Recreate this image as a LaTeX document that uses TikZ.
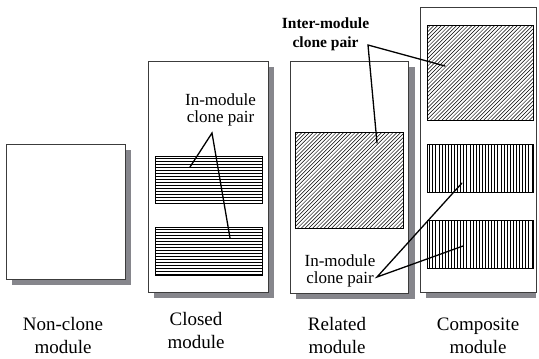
\documentclass[tikz,border=0pt]{standalone}
\usepackage{fontspec}
\setmainfont{Liberation Serif}
\definecolor{shadowgray}{RGB}{134,134,140}
\definecolor{boxline}{RGB}{60,60,60}
\tikzset{
  modbox/.style={draw=boxline, fill=white, line width=0.9bp},
  modshadow/.style={fill=shadowgray, draw=none},
  clonebox/.style={draw=black, line width=0.9bp},
  hatchline/.style={draw=black, line width=0.5bp},
  conn/.style={draw=black, line width=1.3bp, line cap=round},
  lbl/.style={align=center, inner sep=0pt, font=\fontsize{19bp}{23bp}\selectfont},
  inlbl/.style={align=center, inner sep=0pt, font=\fontsize{17bp}{16.5bp}\selectfont},
  interlbl/.style={align=center, inner sep=0pt, font=\fontsize{15.5bp}{19bp}\selectfont\bfseries},
}
\begin{document}
\begin{tikzpicture}[x=1bp, y=-1bp]
\clip (0,0) rectangle (539,358);
\fill[white] (0,0) rectangle (539,358);

% ---- shadows ----
\fill[modshadow] (12,150) rectangle (131,285);
\fill[modshadow] (154,67) rectangle (274,298);
\fill[modshadow] (296,67) rectangle (415,299);
\fill[modshadow] (426,13) rectangle (536,298);

% ---- module boxes ----
\node[modbox, minimum width=119bp, minimum height=135bp, inner sep=0pt] (m1) at (65.5,211.5) {};
\node[modbox, minimum width=120bp, minimum height=231bp, inner sep=0pt] (m2) at (208,176.5) {};
\node[modbox, minimum width=118bp, minimum height=232bp, inner sep=0pt] (m3) at (349,177) {};
\node[modbox, minimum width=116bp, minimum height=285bp, inner sep=0pt] (m4) at (478,149.5) {};

% ---- closed module: horizontal hatching ----
\begin{scope}
\clip (155,156) rectangle (262,203);
\foreach \y in {158,161,...,203} \draw[hatchline] (155,\y) -- (262,\y);
\end{scope}
\node[clonebox, minimum width=107bp, minimum height=47bp, inner sep=0pt] (c1) at (208.5,179.5) {};
\begin{scope}
\clip (155,227) rectangle (262,275);
\foreach \y in {229,232,...,275} \draw[hatchline] (155,\y) -- (262,\y);
\end{scope}
\node[clonebox, minimum width=107bp, minimum height=48bp, inner sep=0pt] (c2) at (208.5,251) {};

% ---- related module: diagonal hatching ----
\begin{scope}
\clip (295,132) rectangle (403,228);
\foreach \x in {195,198.8,...,403} \draw[hatchline] (\x,228) -- (\x+96,132);
\end{scope}
\node[clonebox, minimum width=108bp, minimum height=96bp, inner sep=0pt] (r1) at (349,180) {};

% ---- composite module ----
\begin{scope}
\clip (427,25) rectangle (533,120);
\foreach \x in {328,331.8,...,533} \draw[hatchline] (\x,120) -- (\x+95,25);
\end{scope}
\node[clonebox, minimum width=106bp, minimum height=95bp, inner sep=0pt] (p1) at (480,72.5) {};
\begin{scope}
\clip (427,144) rectangle (533,192);
\foreach \x in {429.5,432.6,...,533} \draw[hatchline] (\x,144) -- (\x,192);
\end{scope}
\node[clonebox, minimum width=106bp, minimum height=48bp, inner sep=0pt] (p2) at (480,168) {};
\begin{scope}
\clip (427,220) rectangle (533,268);
\foreach \x in {429.5,432.6,...,533} \draw[hatchline] (\x,220) -- (\x,268);
\end{scope}
\node[clonebox, minimum width=106bp, minimum height=48bp, inner sep=0pt] (p3) at (480,244) {};

% ---- labels inside ----
\node[inlbl] (t1) at (220.5,110) {In-module\\clone pair};
\node[inlbl] (t2) at (340,271) {In-module\\clone pair};
\node[interlbl] (t3) at (325.5,34) {Inter-module\\clone pair};

% ---- connector points ----
\coordinate (a1) at (212,133);
\coordinate (e1) at (190,167);
\coordinate (e2) at (230,238);
\coordinate (a2) at (368,45);
\coordinate (e3) at (377,143);
\coordinate (e4) at (445,66);
\coordinate (a3) at (377,277);
\coordinate (e5) at (462,183);
\coordinate (e6) at (463,246);

\draw[conn] (e1) -- (a1) -- (e2);
\draw[conn] (e3) -- (a2) -- (e4);
\draw[conn] (e5) -- (a3) -- (e6);

% ---- bottom labels ----
\node[lbl] (l1) at (63,335) {Non-clone\\module};
\node[lbl] (l2) at (196,330) {Closed\\module};
\node[lbl] (l3) at (337,335.5) {Related\\module};
\node[lbl] (l4) at (478,335.5) {Composite\\module};
\end{tikzpicture}
\end{document}
